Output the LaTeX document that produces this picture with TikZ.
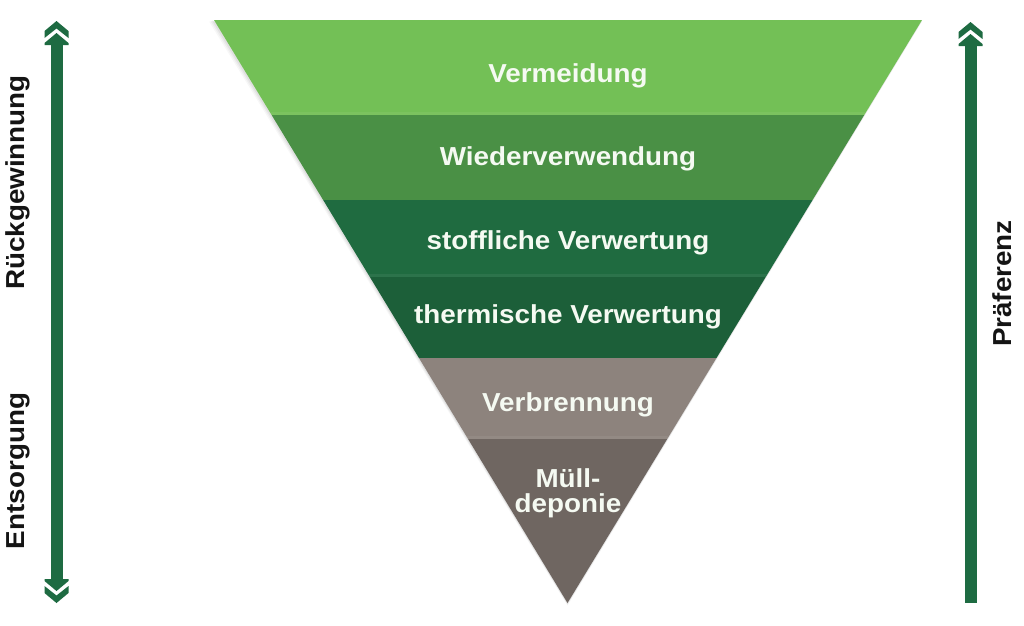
\documentclass[tikz,border=0pt]{standalone}
\usepackage{fontspec}
\setmainfont{Liberation Sans}[FakeStretch=1.07]
\definecolor{bandA}{HTML}{73C056}
\definecolor{bandB}{HTML}{4A9045}
\definecolor{bandC}{HTML}{1F6B40}
\definecolor{bandD}{HTML}{1C5F39}
\definecolor{bandE}{HTML}{8D837D}
\definecolor{bandF}{HTML}{6F6661}
\definecolor{arrowgreen}{HTML}{1E6B42}
\definecolor{labelwhite}{HTML}{F5FAF2}
\tikzset{
  bandlabel/.style={text=labelwhite, font=\fontsize{26}{25}\selectfont\bfseries, anchor=base, inner sep=0pt, align=center},
  sidelabel/.style={text=black!92, font=\fontsize{26}{25}\selectfont\bfseries, anchor=base, inner sep=0pt, rotate=90},
  arrowfill/.style={fill=arrowgreen},
}
\begin{document}
\begin{tikzpicture}[x=1pt,y=-1pt]
\useasboundingbox (0,0) rectangle (1024,625);
\fill[white] (0,0) rectangle (1024,625);
% soft shadow
\foreach \d/\o in {5/0.03,3.5/0.04,2/0.05}{
  \fill[black, opacity=\o] (214-\d,20+\d*0.3) -- (922,20+\d*0.3) -- (567.5,603+\d*0.5) -- cycle;
}
% bands
\begin{scope}
\clip (214,20) -- (922,20) -- (567.5,603) -- cycle;
\fill[bandA] (200,20) rectangle (940,115);
\fill[bandB] (200,115) rectangle (940,200);
\fill[bandC] (200,200) rectangle (940,277);
\fill[bandD] (200,277) rectangle (940,358);
\fill[bandE] (200,358) rectangle (940,439);
\fill[bandF] (200,439) rectangle (940,605);
\fill[white,opacity=0.06] (200,112) rectangle (940,115);
\fill[white,opacity=0.06] (200,274) rectangle (940,277);
\fill[white,opacity=0.06] (200,436) rectangle (940,439);
\end{scope}
% band labels
\node[bandlabel] (vermeidung) at (568,82) {Vermeidung};
\node[bandlabel] (wieder) at (568,165) {Wiederverwendung};
\node[bandlabel] (stofflich) at (568,249) {stoffliche Verwertung};
\node[bandlabel] (thermisch) at (568,323) {thermische Verwertung};
\node[bandlabel] (verbrennung) at (568,411) {Verbrennung};
\node[bandlabel] (muell) at (568,487) {Müll-};
\node[bandlabel] (deponie) at (568,512) {deponie};
% left double arrow
\fill[arrowfill] (50.5,43) rectangle (62.5,582);
\fill[arrowfill] (56.5,21) -- (68.5,31) -- (68.5,38) -- (56.5,28.5) -- (44.5,38) -- (44.5,31) -- cycle;
\fill[arrowfill] (56.5,33) -- (68.5,43) -- (68.5,45) -- (44.5,45) -- (44.5,43) -- cycle;
\fill[arrowfill] (56.5,603) -- (68.5,593) -- (68.5,586) -- (56.5,595.5) -- (44.5,586) -- (44.5,593) -- cycle;
\fill[arrowfill] (56.5,591) -- (68.5,581) -- (68.5,579) -- (44.5,579) -- (44.5,581) -- cycle;
% right arrow
\fill[arrowfill] (964.5,43) rectangle (976.5,603);
\fill[arrowfill] (970.5,22) -- (982.5,32) -- (982.5,39) -- (970.5,29.5) -- (958.5,39) -- (958.5,32) -- cycle;
\fill[arrowfill] (970.5,34) -- (982.5,44) -- (982.5,46) -- (958.5,46) -- (958.5,44) -- cycle;
% side labels
\node[sidelabel] (rueck) at (24,182.5) {Rückgewinnung};
\node[sidelabel] (entsorgung) at (24,471) {Entsorgung};
\node[sidelabel] (praeferenz) at (1011,283.5) {Präferenz};
\end{tikzpicture}
\end{document}
